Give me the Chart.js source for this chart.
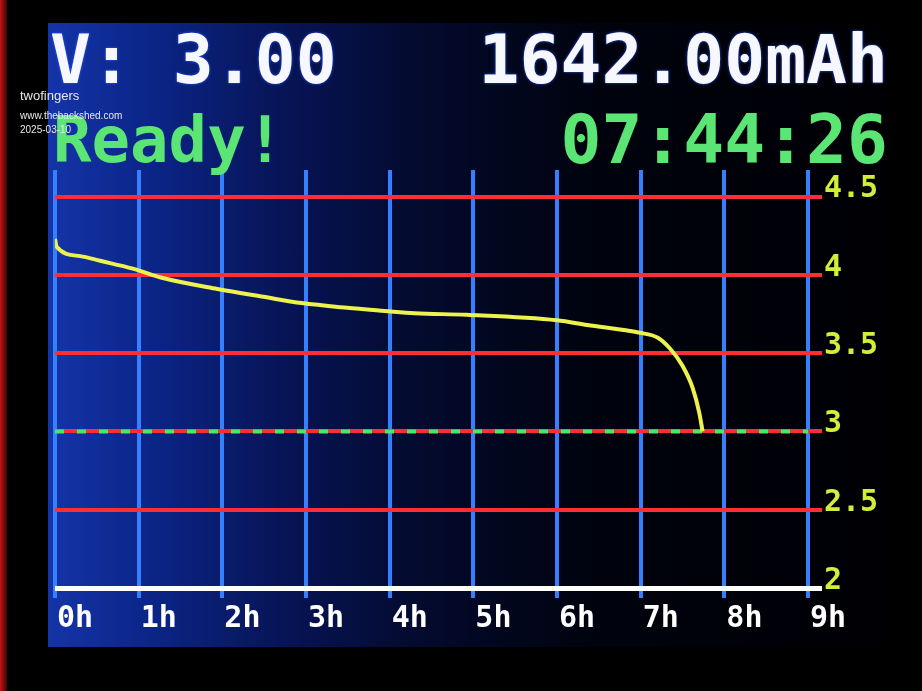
<!DOCTYPE html>
<html>
<head>
<meta charset="utf-8">
<script src="https://cdn.jsdelivr.net/npm/chart.js@4.4.1/dist/chart.umd.min.js"></script>
<style>
html, body { margin: 0; padding: 0; background: #000; width: 922px; height: 691px; overflow: hidden; }
#borda { position: absolute; left: 0; top: 0; width: 7px; height: 691px; background: linear-gradient(to right, #c81212, #3a0606); }
#tela {
    position: absolute; left: 48px; top: 23px; width: 840px; height: 624px;
    background: linear-gradient(to right, #1434a8 0%, #0b2588 12%, #071456 28%, #030a2c 45%, #00030e 65%, #000004 100%);
}
#grafico { position: absolute; left: 0; top: 0; }
.txt {
    position: absolute; font-family: "DejaVu Sans Mono", monospace; font-weight: bold;
    font-size: 68px; line-height: 68px; white-space: pre;
}
.branco { color: #f6f7ff; text-shadow: 0 0 3px #2a5cff; }
.verde { color: #5ae574; }
.marca { position: absolute; left: 20px; font-family: "Liberation Sans", Arial, sans-serif; color: #e8e8e8; white-space: pre; }
</style>
</head>
<body>
<div id="borda"></div>
<div id="tela"></div>
<canvas id="grafico" width="922" height="691"></canvas>
<div class="txt branco" style="left:50px; top:26px;">V: 3.00</div>
<div class="txt branco" style="right:34px; top:26px;">1642.00mAh</div>
<div class="txt verde" style="left:53px; top:106px; font-size:64px;">Ready!</div>
<div class="txt verde" style="right:34px; top:106px;">07:44:26</div>
<div class="marca" style="top:88px; font-size:13px;">twofingers</div>
<div class="marca" style="top:110px; font-size:10px;">www.thebackshed.com</div>
<div class="marca" style="top:124px; font-size:10px;">2025-03-10</div>
<script>
const horas = [0, 0.02, 0.3, 0.54, 0.93, 1.29, 1.94, 2.49, 2.95, 3.49, 3.94, 4.3, 4.92, 6.0, 6.36, 6.99, 7.2, 7.35, 7.5, 7.62, 7.7, 7.74];
const tensao = [4.23, 4.18, 4.12, 4.09, 4.04, 3.98, 3.91, 3.86, 3.82, 3.79, 3.77, 3.755, 3.745, 3.71, 3.68, 3.63, 3.6, 3.53, 3.42, 3.28, 3.12, 3.00];

const ticksHoras = [0, 1, 2, 3, 4, 5, 6, 7, 8, 9];
const ticksTensao = [2, 2.5, 3, 3.5, 4, 4.5];
const tensaoCorte = 3;

const fonte = { family: "DejaVu Sans Mono", size: 30, weight: "bold" };

const pontos = horas.map((h, i) => ({ x: h, y: tensao[i] }));
const linhaCorte = [
    { x: ticksHoras[0], y: tensaoCorte },
    { x: ticksHoras[ticksHoras.length - 1], y: tensaoCorte }
];

const ctx = document.getElementById('grafico').getContext('2d');
new Chart(ctx, {
    type: 'line',
    data: {
        datasets: [
            {
                label: 'Tensão',
                data: pontos,
                borderColor: '#eef24e',
                borderWidth: 4,
                pointRadius: 0,
                cubicInterpolationMode: 'monotone',
                fill: false,
                order: 1
            },
            {
                label: 'Corte',
                data: linhaCorte,
                borderColor: '#48e86c',
                borderWidth: 4,
                borderDash: [9, 13],
                pointRadius: 0,
                fill: false,
                order: 2
            }
        ]
    },
    options: {
        responsive: false,
        animation: false,
        layout: { padding: { left: 55, top: 170, right: 0, bottom: 0 } },
        plugins: {
            legend: { display: false },
            tooltip: { enabled: false }
        },
        scales: {
            x: {
                type: 'linear',
                min: 0,
                max: 9,
                afterBuildTicks: s => { s.ticks = ticksHoras.map(v => ({ value: v })); },
                afterFit: s => { s.height = 103; },
                border: { display: false },
                grid: { color: '#3580ff', lineWidth: 4, tickLength: 10 },
                ticks: {
                    color: '#ffffff',
                    font: fonte,
                    align: 'start',
                    labelOffset: 2,
                    padding: 3,
                    autoSkip: false,
                    maxRotation: 0,
                    callback: v => v + 'h'
                }
            },
            y: {
                type: 'linear',
                position: 'right',
                min: 2,
                max: 4.67,
                afterBuildTicks: s => { s.ticks = ticksTensao.map(v => ({ value: v })); },
                afterFit: s => { s.width = 114; },
                border: { display: false },
                grid: {
                    color: c => (c.tick && c.tick.value === 2) ? '#ffffff' : '#ff2d35',
                    lineWidth: c => (c.tick && c.tick.value === 2) ? 5 : 4,
                    tickLength: 14
                },
                ticks: {
                    color: '#d2ee3a',
                    font: fonte,
                    padding: 2,
                    labelOffset: -7,
                    callback: v => String(v)
                }
            }
        }
    }
});
</script>
</body>
</html>
